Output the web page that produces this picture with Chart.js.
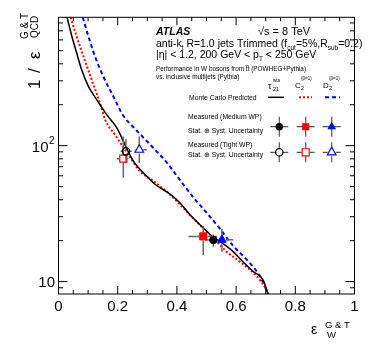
<!DOCTYPE html>
<html>
<head>
<meta charset="utf-8">
<script src="https://cdn.jsdelivr.net/npm/chart.js@4.4.1/dist/chart.umd.min.js"></script>
<style>
  html, body { margin: 0; padding: 0; background: #fff; }
  #wrap { position: relative; width: 374px; height: 351px; }
</style>
</head>
<body>
<div id="wrap"><canvas id="effChart" width="374" height="351"></canvas></div>
<script>
// Monte Carlo curves (x = signal eff, y = 1 / background eff)
const tauX = [0.029, 0.045, 0.061, 0.078, 0.101, 0.129, 0.163, 0.197, 0.230, 0.253, 0.275, 0.300, 0.326, 0.377, 0.410, 0.444, 0.488, 0.522, 0.556, 0.590, 0.623, 0.657, 0.691, 0.708];
const tauY = [880, 638, 484, 363, 273, 218, 169, 135, 96, 77, 67, 59, 52, 44, 38, 31, 25, 21.3, 19.0, 16.6, 14.0, 11.9, 10.3, 8.1];
const c2X = [0.041, 0.061, 0.084, 0.112, 0.144, 0.157, 0.191, 0.236, 0.275, 0.320, 0.370, 0.410, 0.450, 0.490, 0.534, 0.568, 0.613, 0.670, 0.703, 0.710];
const c2Y = [880, 638, 455, 306, 194, 156, 120, 86, 65, 55, 45, 37, 30, 24.5, 19.7, 16.6, 14.0, 10.9, 8.7, 8.1];
const d2X = [0.082, 0.101, 0.123, 0.151, 0.185, 0.219, 0.253, 0.275, 0.319, 0.366, 0.410, 0.454, 0.501, 0.546, 0.590, 0.636, 0.681, 0.708];
const d2Y = [880, 638, 455, 324, 231, 166, 137, 122, 97, 75, 56, 42, 32, 24.4, 18.3, 14.5, 10.9, 8.1];

// measured points: order tau21, C2, D2
const mediumX = [0.523, 0.489, 0.552];
const mediumY = [20.2, 21.5, 20.3];
const mediumXLo = [0.495, 0.439, 0.534];
const mediumXHi = [0.550, 0.536, 0.590];
const mediumYLo = [18.0, 15.7, 16.6];
const mediumYHi = [22.2, 25.7, 24.4];

const tightX = [0.228, 0.219, 0.273];
const tightY = [90.8, 80.2, 93.3];
const tightXLo = [0.210, 0.197, 0.258];
const tightXHi = [0.247, 0.236, 0.298];
const tightYLo = [75, 58, 74.6];
const tightYHi = [112, 117, 117];

const xMajor = [0, 0.2, 0.4, 0.6, 0.8, 1];
const xLabels = ['0', '0.2', '0.4', '0.6', '0.8', '1'];
const yMajor = [10, 100];
const yMinor = [9, 20, 30, 40, 50, 60, 70, 80, 90, 200, 300, 400, 500, 600, 700, 800];

const colors = ['#000000', '#ff0000', '#0000ff'];
const styles = ['circle', 'rect', 'triangle'];
const radii = [3.7, 5, 5];
const FONT = "'Liberation Sans', Arial, sans-serif";

const pts = (xs, ys) => xs.map((x, i) => ({x, y: ys[i]}));

const markerSets = [];
[0, 1, 2].forEach(i => {
  markerSets.push({
    type: 'scatter', data: [{x: mediumX[i], y: mediumY[i]}],
    pointStyle: styles[i], pointRadius: radii[i], pointBackgroundColor: colors[i],
    pointBorderColor: colors[i], pointBorderWidth: 1
  });
});
[0, 1, 2].forEach(i => {
  markerSets.push({
    type: 'scatter', data: [{x: tightX[i], y: tightY[i]}],
    pointStyle: styles[i], pointRadius: radii[i], pointBackgroundColor: 'rgba(0,0,0,0)',
    pointBorderColor: colors[i], pointBorderWidth: 1.2
  });
});

const curveSets = [
  {type: 'line', data: pts(tauX, tauY), borderColor: '#000', borderWidth: 1.5},
  {type: 'line', data: pts(c2X, c2Y), borderColor: '#ff0000', borderWidth: 2, borderDash: [2, 2]},
  {type: 'line', data: pts(d2X, d2Y), borderColor: '#0000ff', borderWidth: 2, borderDash: [4, 3]}
].map(d => Object.assign(d, {pointRadius: 0, cubicInterpolationMode: 'monotone', fill: false}));

function txt(ctx, s, x, y, size, style) {
  ctx.font = (style || '') + ' ' + size + 'px ' + FONT;
  ctx.fillText(s, x, y);
  return ctx.measureText(s).width;
}

function marker(ctx, style, x, y, r, color, filled) {
  ctx.save();
  ctx.strokeStyle = color; ctx.fillStyle = color; ctx.lineWidth = filled ? 1 : 1.2;
  ctx.beginPath();
  if (style === 'circle') ctx.arc(x, y, r, 0, Math.PI * 2);
  else if (style === 'rect') { const s = r * Math.SQRT1_2; ctx.rect(x - s, y - s, 2 * s, 2 * s); }
  else { for (let k = 0; k < 3; k++) { const a = k * 2 * Math.PI / 3; const px = x + Math.sin(a) * r, py = y - Math.cos(a) * r; k ? ctx.lineTo(px, py) : ctx.moveTo(px, py); } ctx.closePath(); }
  filled ? ctx.fill() : ctx.stroke();
  ctx.restore();
}

function cross(ctx, x, y, dx, dy, gap) {
  ctx.beginPath();
  ctx.moveTo(x - dx, y); ctx.lineTo(x - gap, y);
  ctx.moveTo(x + gap, y); ctx.lineTo(x + dx, y);
  ctx.moveTo(x, y - dy); ctx.lineTo(x, y - gap);
  ctx.moveTo(x, y + gap); ctx.lineTo(x, y + dy);
  ctx.stroke();
}

const decor = {
  id: 'decor',
  beforeDatasetDraw(chart, args) {
    if (args.index !== 5) return;
    const {ctx, scales: {x, y}} = chart;
    ctx.save();
    ctx.strokeStyle = '#666'; ctx.lineWidth = 1.5;
    const draw = (X, Y, XL, XH, YL, YH) => {
      for (let i = 0; i < 3; i++) {
        const px = x.getPixelForValue(X[i]), py = y.getPixelForValue(Y[i]);
        const g = radii[i] * 0.8;
        ctx.beginPath();
        ctx.moveTo(x.getPixelForValue(XL[i]), py); ctx.lineTo(px - g, py);
        ctx.moveTo(px + g, py); ctx.lineTo(x.getPixelForValue(XH[i]), py);
        ctx.moveTo(px, y.getPixelForValue(YH[i])); ctx.lineTo(px, py - g);
        ctx.moveTo(px, py + g); ctx.lineTo(px, y.getPixelForValue(YL[i]));
        ctx.stroke();
      }
    };
    draw(mediumX, mediumY, mediumXLo, mediumXHi, mediumYLo, mediumYHi);
    draw(tightX, tightY, tightXLo, tightXHi, tightYLo, tightYHi);
    ctx.restore();
  },
  afterDraw(chart) {
    const {ctx, chartArea: a, scales: {x, y}} = chart;
    ctx.save();
    // frame
    ctx.strokeStyle = '#000'; ctx.lineWidth = 1;
    ctx.strokeRect(a.left, a.top, a.right - a.left, a.bottom - a.top);
    ctx.beginPath();
    for (let v = 0; v <= 1.0001; v += 0.05) {
      const px = x.getPixelForValue(v);
      const len = Math.abs(v / 0.2 - Math.round(v / 0.2)) < 1e-6 ? 8 : 4;
      ctx.moveTo(px, a.bottom); ctx.lineTo(px, a.bottom - len);
      ctx.moveTo(px, a.top); ctx.lineTo(px, a.top + len);
    }
    yMajor.forEach(v => { const py = y.getPixelForValue(v);
      ctx.moveTo(a.left, py); ctx.lineTo(a.left + 9, py);
      ctx.moveTo(a.right, py); ctx.lineTo(a.right - 9, py); });
    yMinor.forEach(v => { const py = y.getPixelForValue(v);
      ctx.moveTo(a.left, py); ctx.lineTo(a.left + 4.5, py);
      ctx.moveTo(a.right, py); ctx.lineTo(a.right - 4.5, py); });
    ctx.stroke();

    // tick labels
    ctx.fillStyle = '#000';
    ctx.textBaseline = 'alphabetic';
    ctx.textAlign = 'center';
    xMajor.forEach((v, i) => txt(ctx, xLabels[i], x.getPixelForValue(v), 311, 15));
    ctx.textAlign = 'right';
    txt(ctx, '10', 55, y.getPixelForValue(10) + 5, 15);
    txt(ctx, '10', 48.5, y.getPixelForValue(100) + 6.5, 15);
    ctx.textAlign = 'left';
    txt(ctx, '2', 49, y.getPixelForValue(100) - 1.5, 10);

    // x title
    txt(ctx, '\u03b5', 311, 334, 14);
    txt(ctx, 'G & T', 325, 328, 9.5);
    txt(ctx, 'W', 327, 338, 9.5);

    // y title (rotated)
    ctx.save();
    ctx.translate(40, 0);
    ctx.rotate(-Math.PI / 2);
    txt(ctx, '1', -89, 0, 17);
    txt(ctx, '/', -73, 0, 17);
    txt(ctx, '\u03b5', -59, 0, 17);
    txt(ctx, 'G & T', -39, -12, 10);
    txt(ctx, 'QCD', -38, -2, 10);
    ctx.restore();

    // labels
    txt(ctx, 'ATLAS', 156, 35, 10.5, 'italic bold');
    txt(ctx, '\u221as = 8 TeV', 258, 35, 11);
    let cx = 156;
    cx += txt(ctx, 'anti-k', cx, 47, 10.5);
    cx += txt(ctx, 't', cx, 50, 6.5);
    cx += txt(ctx, ' R=1.0 jets Trimmed (f', cx, 47, 10.5);
    cx += txt(ctx, 'cut', cx, 50, 6.5);
    cx += txt(ctx, '=5%,R', cx, 47, 10.5);
    cx += txt(ctx, 'sub', cx, 50, 6.5);
    txt(ctx, '=0.2)', cx, 47, 10.5);
    cx = 156;
    cx += txt(ctx, '|\u03b7| < 1.2, 200 GeV < p', cx, 58, 10.5);
    cx += txt(ctx, 'T', cx, 61, 6.5);
    txt(ctx, ' < 250 GeV', cx, 58, 10.5);
    txt(ctx, 'Performance in W bosons from t\u0305t (POWHEG+Pythia)', 156, 71, 6.4);
    txt(ctx, 'vs. inclusive multijets (Pythia)', 156, 78.5, 6.4);

    // column headers
    txt(ctx, '\u03c4', 268, 89, 9);
    txt(ctx, 'wta', 273, 82, 4.5);
    txt(ctx, '21', 273, 91, 5.5);
    txt(ctx, 'C', 295, 87.5, 8);
    txt(ctx, '(\u03b2=1)', 301, 80, 4.5);
    txt(ctx, '2', 301, 90, 5.5);
    txt(ctx, 'D', 323, 87.5, 8);
    txt(ctx, '(\u03b2=1)', 329, 80, 4.5);
    txt(ctx, '2', 329, 90, 5.5);

    // legend rows
    txt(ctx, 'Monte Carlo Predicted', 189, 99.5, 6.8);
    txt(ctx, 'Measured (Medium WP)', 188, 119, 6.8);
    txt(ctx, 'Stat. \u2295 Syst. Uncertainty', 188, 132.5, 6.8);
    txt(ctx, 'Measured (Tight WP)', 188, 146.5, 6.8);
    txt(ctx, 'Stat. \u2295 Syst. Uncertainty', 188, 157, 6.8);

    const colX = [279.3, 305.7, 331.7];
    ctx.lineWidth = 1.5;
    ctx.strokeStyle = '#000'; ctx.beginPath(); ctx.moveTo(268, 97.3); ctx.lineTo(284, 97.3); ctx.stroke();
    ctx.strokeStyle = '#ff0000'; ctx.lineWidth = 2; ctx.setLineDash([2, 2]); ctx.beginPath(); ctx.moveTo(299, 97.3); ctx.lineTo(312, 97.3); ctx.stroke();
    ctx.strokeStyle = '#0000ff'; ctx.setLineDash([4, 3]); ctx.beginPath(); ctx.moveTo(325, 97.3); ctx.lineTo(340, 97.3); ctx.stroke();
    ctx.setLineDash([]);
    ctx.strokeStyle = '#555'; ctx.lineWidth = 1.2;
    colX.forEach((cxx, i) => {
      cross(ctx, cxx, 126.7, 9, 10, 0);
      cross(ctx, cxx, 152.3, 9, 10, radii[i] * 0.8);
    });
    colX.forEach((cxx, i) => {
      marker(ctx, styles[i], cxx, 126.7, radii[i], colors[i], true);
      marker(ctx, styles[i], cxx, 152.3, radii[i], colors[i], false);
    });
    ctx.restore();
  }
};

new Chart(document.getElementById('effChart'), {
  type: 'scatter',
  data: { datasets: markerSets.concat(curveSets) },
  options: {
    responsive: false,
    animation: false,
    layout: { padding: { left: 58.5, right: 19.5, top: 17.3, bottom: 57 } },
    plugins: { legend: { display: false }, tooltip: { enabled: false } },
    scales: {
      x: { type: 'linear', min: 0, max: 1, display: false },
      y: { type: 'logarithmic', min: 8.1, max: 880, display: false }
    }
  },
  plugins: [decor]
});
</script>
</body>
</html>
